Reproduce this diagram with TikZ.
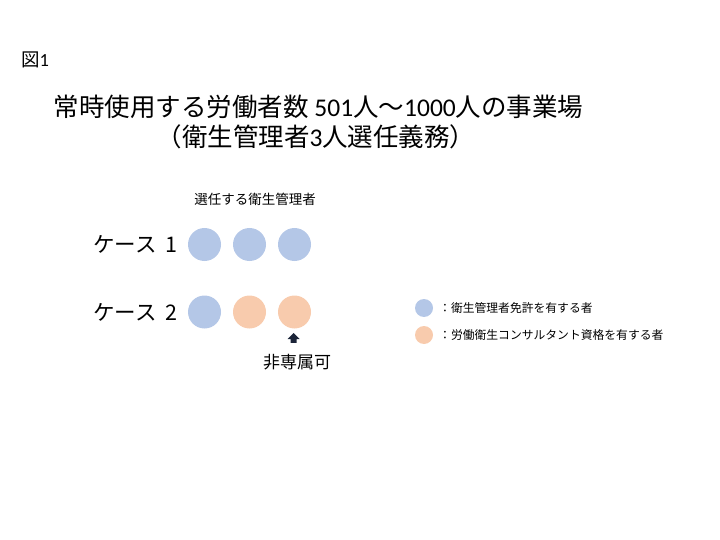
\documentclass[tikz,border=0pt]{standalone}
\usepackage{fontspec}
\setmainfont{Carlito}
\newfontfamily\jp{Noto Sans CJK JP}
\usepackage{tikz}
\usepackage{xcolor}
\usetikzlibrary{calc}

\definecolor{eiseiblue}{HTML}{B4C7E7}
\definecolor{consorange}{HTML}{F8CBAD}
\definecolor{arrownavy}{HTML}{1B2438}

\begin{document}
\begin{tikzpicture}[x=1pt,y=-1pt,
        person/.style={circle,minimum size=33pt,inner sep=0pt},
        keydot/.style={circle,minimum size=18pt,inner sep=0pt},
        casetext/.style={anchor=east,inner sep=0pt,font=\jp\fontsize{21.5}{22}\selectfont},
        keytext/.style={anchor=west,inner sep=0pt,font=\jp\fontsize{11.8}{12}\selectfont}]
        % page frame
        \useasboundingbox (0,0) rectangle (720,540);

        % figure number and title
        \node[anchor=west,inner sep=0pt,font=\fontsize{18.5}{19}\selectfont] (fig) at (21,60) {{\jp 図}1};
        \node[inner sep=0pt,font=\fontsize{25.5}{28}\selectfont] (title1) at (318.5,107)
            {{\jp 常時使用する労働者数} 501{\jp 人～}1000{\jp 人の事業場}};
        \node[inner sep=0pt,font=\fontsize{25.5}{28}\selectfont] (title2) at (316,137)
            {{\jp （衛生管理者}3{\jp 人選任義務）}};

        % column heading
        \node[inner sep=0pt,font=\jp\fontsize{13.5}{14}\selectfont] (head) at (255,199) {選任する衛生管理者};

        % the two cases
        \node[casetext] (case1) at (178,244) {ケース\hspace{9pt}1};
        \node[casetext] (case2) at (178,312) {ケース\hspace{9pt}2};

        \foreach \i/\x in {1/204.5,2/249.5,3/294.5} {
                % case 1: all three hold the licence
                \node[person,fill=eiseiblue] (a\i) at (\x,244.5) {};
        }
        \foreach \i/\x/\c in {1/204.5/eiseiblue,2/249.5/consorange,3/294.5/consorange} {
                % case 2: one licence holder, two consultants
                \node[person,fill=\c] (b\i) at (\x,312) {};
        }

        % the non-exclusive one
        \coordinate (tip) at (293.5,333);
        \fill[arrownavy] (tip) -- ++(6,6) -- ++(-3,0) -- ++(0,3.8) -- ++(-6,0)
              -- ++(0,-3.8) -- ++(-3,0) -- cycle;
        \node[inner sep=0pt,font=\jp\fontsize{17}{18}\selectfont] (nonexcl) at (297,362) {非専属可};

        % legend
        \node[keydot,fill=eiseiblue] (key1) at (424,308) {};
        \node[keydot,fill=consorange] (key2) at (424,335) {};
        \node[keytext] (keytext1) at (439,308) {：衛生管理者免許を有する者};
        \node[keytext] (keytext2) at (439,335) {：労働衛生コンサルタント資格を有する者};
\end{tikzpicture}
\end{document}
